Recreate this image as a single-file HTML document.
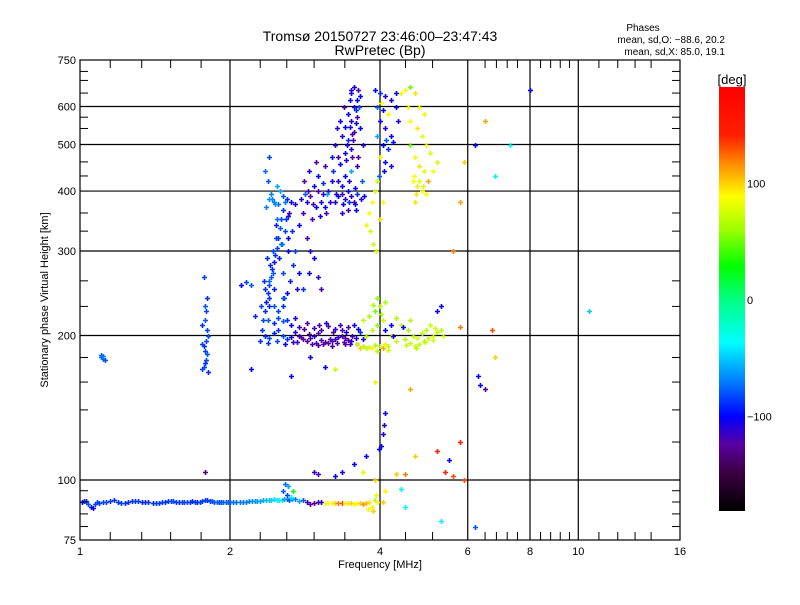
<!DOCTYPE html>
<html><head><meta charset="utf-8"><style>
body{margin:0;background:#fff;width:800px;height:600px;overflow:hidden}
svg{font-family:"Liberation Sans",sans-serif}
</style></head><body>
<svg id="c" width="800" height="600" viewBox="0 0 800 600" xmlns="http://www.w3.org/2000/svg">
<defs>
<linearGradient id="cb" x1="0" y1="0" x2="0" y2="1">
<stop offset="0" stop-color="#ff0000"/><stop offset="0.115" stop-color="#ff2000"/>
<stop offset="0.184" stop-color="#ff9000"/><stop offset="0.258" stop-color="#ffff00"/>
<stop offset="0.335" stop-color="#a0ff00"/><stop offset="0.423" stop-color="#00ff00"/>
<stop offset="0.5" stop-color="#00ff80"/><stop offset="0.602" stop-color="#00ffff"/>
<stop offset="0.692" stop-color="#0080ff"/><stop offset="0.777" stop-color="#0000ff"/>
<stop offset="0.843" stop-color="#5a00a0"/><stop offset="0.912" stop-color="#3a0040"/>
<stop offset="1" stop-color="#000000"/>
</linearGradient>
</defs>
<rect width="800" height="600" fill="#fff"/>
<text x="380" y="41" font-size="14" text-anchor="middle">Tromsø 20150727 23:46:00–23:47:43</text>
<text x="380" y="55" font-size="14" text-anchor="middle">RwPretec (Bp)</text>
<text x="643" y="31" font-size="10" text-anchor="middle">Phases</text>
<text x="725" y="43" font-size="10" text-anchor="end">mean, sd,O: −88.6, 20.2</text>
<text x="725" y="55" font-size="10" text-anchor="end">mean, sd,X:  85.0, 19.1</text>
<g id="grid"></g>
<g id="marks"></g>
<rect x="80" y="60" width="600" height="480" fill="none" stroke="#000" stroke-width="1.2"/>
<g id="ticks"></g>
<text x="380" y="568" font-size="11" text-anchor="middle">Frequency [MHz]</text>
<text transform="translate(48,300) rotate(-90)" font-size="11" text-anchor="middle">Stationary phase Virtual Height [km]</text>
<rect x="719" y="87" width="26" height="424" fill="url(#cb)"/>
<text x="732" y="84" font-size="13" text-anchor="middle">[deg]</text>
<g id="cbl"></g>
</svg>
<script>
const NS="http://www.w3.org/2000/svg";
const xTicks=[1,2,4,6,8,10,16];
const yTicks=[75,100,200,300,400,500,600,750];
const cbTicks=[100,0,-100];
// E layer
const eFreq=[1.01,1.02,1.03,1.04,1.05,1.06,1.07,1.08,1.09,1.11,1.13,1.15,1.17,1.19,1.21,1.23,1.25,1.27,1.29,1.31,1.33,1.35,1.37,1.40,1.42,1.44,1.46,1.48,1.50,1.52,1.54,1.56,1.58,1.60,1.62,1.64,1.66,1.68,1.70,1.72,1.74,1.76,1.78,1.80,1.82,1.84,1.86,1.88,1.90,1.92,1.94,1.96,1.98,2.00,2.03,2.06,2.09,2.12,2.15,2.18,2.21,2.24,2.27,2.30,2.33,2.36,2.39,2.42,2.45,2.48,2.51,2.54,2.57,2.60,2.63,2.66,2.70];
const eHeight=[90,90.3,90.5,89,88,87.5,89,90,89.5,90,89.8,90.5,90.8,90.2,89.6,89.5,89.8,90.4,90.6,90.5,90,89.8,89.9,89.7,89.5,89.7,89.9,90.2,90.5,90.6,90.3,90.1,89.9,89.8,89.9,90,90.2,90.3,90.1,90.1,90.0,90.6,91,90.8,90.5,90.3,90.1,90.2,90.0,90.1,90.0,89.9,90,90.1,90.0,89.9,89.8,90.1,90.2,90.3,90.4,90.5,90.6,90.4,90.7,90.8,90.9,91.0,91.1,90.8,91.0,90.9,91.2,91.3,91.0,91.5,91.2];
const ePhase=[-95,-90,-90,-80,-100,-110,-85,-85,-88,-85,-85,-88,-90,-88,-85,-88,-90,-90,-88,-88,-90,-92,-90,-90,-88,-85,-85,-90,-88,-85,-82,-88,-90,-88,-85,-85,-88,-90,-88,-90,-88,-85,-85,-88,-85,-82,-80,-80,-82,-80,-78,-80,-78,-78,-75,-75,-72,-72,-70,-70,-68,-65,-62,-60,-58,-55,-52,-50,-45,-42,-40,-45,-60,-70,-80,-60,-70];
// sporadic E / high-frequency part of E trace
const esFreq=[2.55,2.58,2.62,2.60,2.65,2.68,2.75,2.8,2.85,2.9,2.95,3.0,3.05,3.1,3.15,3.2,3.25,3.3,3.35,3.4,3.45,3.5,3.55,3.6,3.65,3.7,3.75,3.8,3.85,3.9,3.95,3.88,3.92,3.78];
const esHeight=[95,98,97,93,92,95,90.5,91,90,89,89.5,89.8,90,89.5,89.7,89.6,89.4,89.6,89.4,89.5,89.7,89.6,89.3,89.5,89.4,89.2,89.5,89.8,88,91,90,86,93,87];
const esPhase=[-80,-75,-60,-85,-40,20,-60,-80,-120,-125,-130,-120,-110,80,85,90,100,120,130,90,95,100,90,85,100,115,105,95,80,70,90,100,80,90];
// 1.1 MHz and 1.8 MHz clusters
const lowFreq=[1.10,1.11,1.12,1.11,1.10,1.76,1.77,1.78,1.79,1.80,1.78,1.77,1.79,1.81,1.80,1.76,1.78,1.79,1.80,1.77,1.78,1.81,1.76,1.78];
const lowHeight=[180,179,178,181,182,170,172,175,178,183,186,190,195,200,205,210,215,225,240,265,104,168,192,230];
const lowPhase=[-75,-75,-80,-70,-75,-85,-85,-90,-85,-80,-85,-90,-85,-80,-85,-90,-80,-85,-90,-85,-130,-90,-85,-80];
// F rising trace
const frFreq=[2.30,2.32,2.33,2.35,2.36,2.38,2.40,2.42,2.43,2.45,2.46,2.48,2.50,2.52,2.53,2.55,2.58,2.50,2.45,2.40,2.55,2.60,2.65,2.70,2.62,2.66,2.70,2.68,2.64,2.60,2.56,2.50,2.45,2.40,2.62,2.58,2.48,2.42,2.38,2.35,2.40,2.52,2.57,2.73,2.75,2.25,2.20,2.15,2.34,2.44,2.54,2.47,2.37,2.63,2.36,2.49,2.31,2.39,2.41,2.44,2.47,2.51,2.53,2.56,2.59,2.61,2.43,2.46,2.35,2.38];
const frHeight=[195,205,215,225,235,245,255,265,275,285,295,305,320,335,350,365,380,375,380,385,390,385,380,375,355,330,300,280,260,245,230,218,230,240,300,330,350,395,420,440,470,400,240,250,270,220,255,258,260,300,310,340,290,360,370,410,230,260,280,270,320,290,310,270,350,320,385,375,250,215];
const frPhase=[-90,-90,-85,-90,-95,-90,-85,-80,-90,-95,-90,-85,-90,-80,-85,-90,-70,-75,-70,-65,-80,-90,-100,-110,-95,-90,-85,-90,-95,-100,-90,-85,-80,-90,-100,-85,-75,-70,-80,-75,-85,-60,-90,-110,-100,-90,-80,-85,-90,-85,-70,-95,-90,-120,-70,-60,-85,-75,-90,-80,-85,-95,-75,-85,-90,-100,-70,-65,-90,-80];
// middle F cluster
const fmFreq=[2.80,2.85,2.90,2.95,3.00,3.05,3.10,2.82,2.88,2.92,3.00,3.08,3.15,2.85,2.90,2.95,2.88,3.00,3.05,2.80,2.75,3.10,3.18,3.20,2.98,2.83,2.93,3.03,3.13,2.78,2.87,2.97,3.07,3.12];
const fmHeight=[360,380,390,410,400,380,370,420,440,350,430,415,400,320,300,290,270,265,250,250,340,450,380,420,460,395,375,355,395,385,400,370,395,360];
const fmPhase=[-120,-110,-125,-100,-120,-110,-100,-125,-110,-120,-100,-90,-110,-120,-110,-100,-100,-110,-120,-90,-100,-120,-110,-100,-125,-80,-120,-110,-60,-110,-120,-100,-110,-120];
// tall column
const fcFreq=[3.25,3.30,3.35,3.40,3.45,3.50,3.55,3.60,3.30,3.40,3.50,3.60,3.30,3.40,3.50,3.45,3.35,3.55,3.40,3.50,3.60,3.45,3.55,3.60,3.50,3.55,3.62,3.65,3.25,3.20,3.28,3.38,3.48,3.58,3.65,3.70,3.62,3.68,3.72,3.35,3.45,3.58,3.22,3.32,3.42,3.52,3.36,3.46,3.56,3.43,3.53,3.33,3.63,3.50,3.27,3.37,3.47,3.57,3.67,3.52,3.58,3.48];
const fcHeight=[380,390,395,385,400,390,380,395,420,430,440,450,470,480,490,510,520,530,545,560,570,580,600,620,640,660,650,630,500,470,540,600,620,590,540,500,470,420,390,360,365,365,440,455,465,470,410,420,405,500,510,560,600,650,395,375,380,375,385,525,555,545];
const fcPhase=[-110,-100,-120,-110,-100,-110,-120,-90,-110,-100,-60,-110,-120,-100,-110,-90,-110,-120,-100,-110,-120,-100,-110,-100,-110,-105,-120,-100,-110,-95,-110,-120,-100,-90,-100,-110,-120,-80,-100,-110,-120,-100,-90,-100,-110,-125,-105,-110,-100,-110,-120,-100,-80,-110,-110,-100,-90,-105,-110,-120,-100,-110];
// second column near 4 MHz
const fc2Freq=[3.90,4.00,4.10,4.20,4.30,3.95,4.05,4.15,4.00,4.10,4.20,3.95,4.05,4.15,4.25,4.00,4.10,4.20,3.98,4.08,4.30,4.35,4.02,4.12];
const fc2Height=[650,640,630,620,640,600,590,580,560,540,520,520,500,490,505,470,460,450,430,440,600,560,610,510];
const fc2Phase=[-100,-90,-110,-100,-100,-80,-100,85,-100,-110,-100,-60,-100,-90,-100,85,-100,-110,-80,-100,-100,-110,85,-80];
// yellow upper cluster
const fyFreq=[4.50,4.60,4.70,4.80,4.90,4.60,4.75,4.85,4.95,5.05,4.70,4.80,4.90,4.65,4.75,4.85,4.95,5.00,5.10,5.20,4.70,4.60,3.85,3.90,3.95,3.80,3.75,3.82,3.88,3.92,4.00,4.05,4.40,4.55,4.68,4.78,4.88,4.72];
const fyHeight=[650,660,640,600,580,560,540,520,500,480,470,450,440,420,410,400,395,420,440,460,380,500,380,400,420,360,340,330,310,300,350,380,640,600,430,420,410,395];
const fyPhase=[90,50,95,85,80,85,95,80,85,75,85,95,80,85,75,90,85,110,85,75,95,50,85,75,70,85,80,75,70,75,95,85,80,85,85,80,75,95];
// lower F band (ordinary)
const fbFreq=[2.35,2.40,2.45,2.50,2.55,2.60,2.65,2.70,2.75,2.80,2.85,2.90,2.95,3.00,3.05,3.10,3.15,3.20,3.25,3.30,3.35,3.40,3.45,3.50,2.45,2.55,2.65,2.75,2.85,2.95,3.05,3.15,3.25,3.35,3.45,3.55,3.65,3.70,3.60,3.40,3.20,3.00,2.60,2.70,2.50,2.40,2.55,2.45,2.38,2.48,2.58,2.68,2.78,2.88,2.98,3.08,3.18,3.28,3.38,3.48,3.58,3.02,3.12,3.22,3.32,3.42,3.52,2.92,2.82,2.72,3.62];
const fbHeight=[200,198,202,205,200,197,199,203,200,197,195,198,200,202,196,194,193,195,197,199,200,198,196,195,212,214,210,208,212,207,205,209,206,205,208,210,203,197,192,192,190,191,215,218,225,230,240,250,193,195,192,194,199,201,193,192,197,193,194,192,198,210,212,203,210,203,200,192,206,194,206];
const fbPhase=[-90,-85,-95,-90,-80,-90,-100,-110,-120,-125,-130,-120,-110,-125,-120,-130,-125,-120,-115,-110,-125,-120,-130,-110,-90,-80,-100,-120,-125,-115,-120,-125,-110,-120,-130,-100,-90,-110,-120,-125,-130,-120,-90,-110,-85,-90,-80,-95,-90,-85,-100,-120,-125,-130,-120,-125,-120,-130,-125,-120,-110,-120,-110,-130,-115,-105,-120,-125,-130,-115,-100];
// lower F band (extraordinary, yellow)
const fyLowFreq=[3.60,3.70,3.80,3.90,4.00,4.10,3.75,3.85,3.95,4.05,3.80,3.90,4.00,4.10,3.95,3.70,4.20,4.30,4.50,4.60,4.70,4.80,4.90,5.00,5.10,5.20,5.30,4.55,4.65,4.75,4.85,4.95,5.05,5.15,4.40,4.30,4.60,5.35,3.65,3.85,4.05,4.15,4.10,4.20,4.25,4.45,5.20,5.30,3.75,3.95,4.15,4.52,4.72,4.92,5.12,3.88,4.02];
const fyLowHeight=[192,190,189,191,190,192,200,205,210,215,220,225,230,235,240,215,200,195,197,193,190,192,195,198,200,203,205,205,200,198,202,205,210,207,210,218,215,200,188,188,188,190,205,210,200,208,225,230,188,186,187,191,188,194,196,232,222];
const fyLowPhase=[70,65,75,60,70,80,60,65,55,70,60,50,65,60,55,70,75,70,65,70,75,70,65,70,75,70,65,60,70,75,70,65,70,75,70,60,65,80,100,90,110,70,-100,-100,-100,-100,-100,-105,70,65,75,70,65,70,75,60,65];
// sparse points
const spFreq=[4.05,4.08,4.02,3.98,4.1,3.75,3.55,3.35,3.0,2.95,3.25,3.7,3.9,4.3,4.5,4.7,5.2,5.5,5.8,5.4,5.6,5.9,4.05,4.1,4.4,4.5,5.3,6.2,6.3,6.35,6.5,6.7,6.8,5.8,5.6,6.5,6.2,6.8,7.3,8.0,10.5,4.6,5.9,5.8,3.9,3.25,3.1,2.65,2.9,2.2,2.1];
const spHeight=[125,130,118,116,138,112,108,104,103,104,102,104,100,103,103,112,115,110,120,104,102,100,90,95,96,88,82,80,165,158,155,205,180,208,300,560,500,430,500,650,225,155,460,380,160,170,172,165,180,170,255];
const spPhase=[-110,-110,-100,-100,-105,-100,-100,-105,-120,-115,-100,80,100,100,120,100,140,-100,140,140,130,130,100,90,-40,-40,-40,-80,-100,-100,-130,130,100,120,120,110,-100,-40,-40,-100,-50,110,100,110,80,70,-100,-100,-100,-100,-100];

const X0=80,X1=680,Y0=540,Y1=60;
const xs=f=>X0+(X1-X0)*Math.log(f)/Math.log(16);
const ys=h=>Y0-(Y0-Y1)*Math.log10(h/75);
const stops=[[-182,[0,0,0]],[-150,[58,0,64]],[-125,[90,0,160]],[-101,[0,0,255]],[-70,[0,128,255]],[-37,[0,255,255]],[0,[0,255,128]],[28,[0,255,0]],[60,[160,255,0]],[88,[255,255,0]],[115,[255,144,0]],[140,[255,32,0]],[182,[255,0,0]]];
function col(p){
  p=Math.max(-182,Math.min(182,p));
  for(let i=1;i<stops.length;i++){
    if(p<=stops[i][0]){const a=stops[i-1],b=stops[i],t=(p-a[0])/(b[0]-a[0]);
      const c=a[1].map((v,k)=>Math.round(v+(b[1][k]-v)*t));return `rgb(${c})`;}
  }
  return "rgb(255,0,0)";
}
function el(tag,attrs,parent){const e=document.createElementNS(NS,tag);for(const k in attrs)e.setAttribute(k,attrs[k]);parent.appendChild(e);return e;}
const grid=document.getElementById('grid'),ticks=document.getElementById('ticks'),marks=document.getElementById('marks'),cbl=document.getElementById('cbl');
xTicks.forEach(f=>{
  const x=xs(f);
  if(f>1&&f<16){const l=el('line',{x1:x,x2:x,y1:Y1,y2:Y0,stroke:'#000','stroke-width':1.2},grid);
    
    }
  const t=el('text',{x:x,y:555,'font-size':11,'text-anchor':'middle'},ticks);t.textContent=f;
  
  
});
yTicks.forEach(h=>{
  const y=ys(h);
  if(h>75&&h<750){const l=el('line',{x1:X0,x2:X1,y1:y,y2:y,stroke:'#000','stroke-width':1.2},grid);
    
    }
  const t=el('text',{x:76,y:y+4,'font-size':11,'text-anchor':'end'},ticks);t.textContent=h;
  
  
});
const xMinor=[1.15,1.33,1.52,1.75,2.3,2.6,2.95,3.4,4.5,5.1,6.5,6.85,7.2,7.55,8.4,8.8,9.2,9.6,11,12,13,14];
xMinor.forEach(f=>{const x=xs(f);
  el('line',{x1:x,x2:x,y1:Y0,y2:Y0-8,stroke:'#000'},ticks);
  el('line',{x1:x,x2:x,y1:Y1,y2:Y1+8,stroke:'#000'},ticks);});
const yMinor=[80,85,90,95,120,140,160,180,230,260,330,360,430,460,540,570,640,680,710];
yMinor.forEach(h=>{const y=ys(h);
  el('line',{x1:X0,x2:X0+8,y1:y,y2:y,stroke:'#000'},ticks);
  el('line',{x1:X1,x2:X1-8,y1:y,y2:y,stroke:'#000'},ticks);});
cbTicks.forEach(v=>{const y=300-v*1.165;
  const t=el('text',{x:747,y:y+4,'font-size':11},cbl);t.textContent=(v<0?'−':'')+Math.abs(v);
  
  });
const groups=[[eFreq,eHeight,ePhase],[esFreq,esHeight,esPhase],[lowFreq,lowHeight,lowPhase],[frFreq,frHeight,frPhase],[fmFreq,fmHeight,fmPhase],[fcFreq,fcHeight,fcPhase],[fc2Freq,fc2Height,fc2Phase],[fyFreq,fyHeight,fyPhase],[fbFreq,fbHeight,fbPhase],[fyLowFreq,fyLowHeight,fyLowPhase],[spFreq,spHeight,spPhase]];
groups.forEach(([F,H,P])=>{
  for(let i=0;i<F.length;i++){
    const x=Math.round(xs(F[i])),y=Math.round(ys(H[i]));
    const p=el('path',{d:`M${x-2} ${y+0.5}h5M${x+0.5} ${y-2}v5`,stroke:col(P[i]),'stroke-width':1.6,fill:'none'},marks);
    
    
  }
});
</script>
</body></html>
